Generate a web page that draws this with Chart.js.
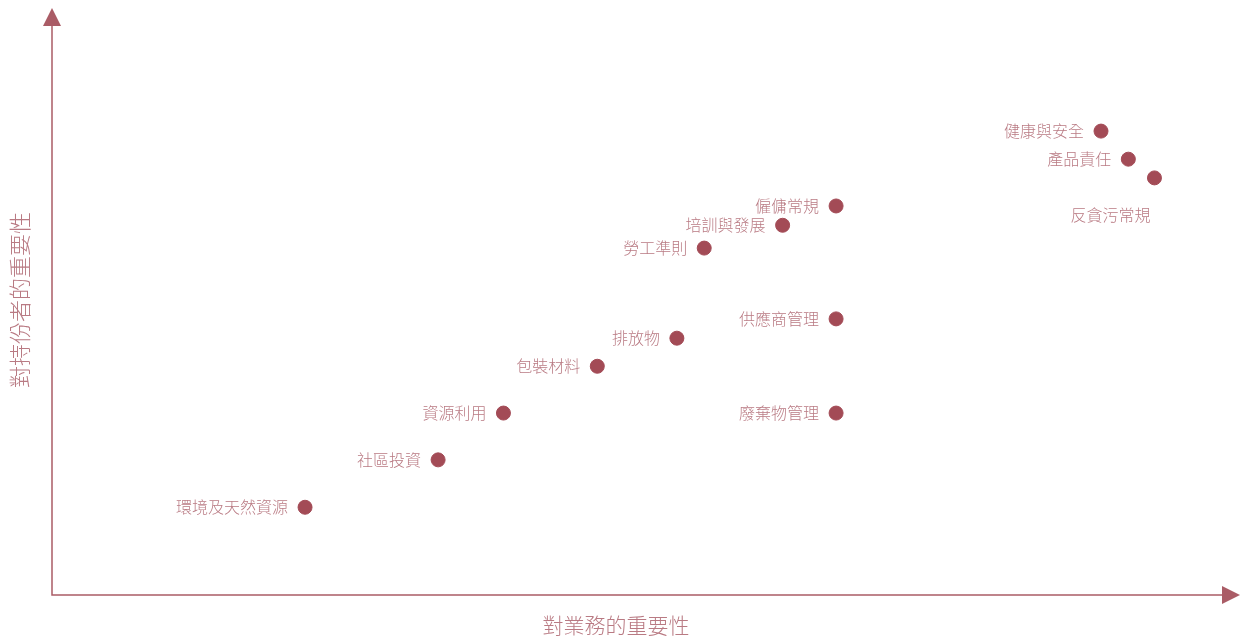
<!DOCTYPE html>
<html>
<head>
<meta charset="utf-8">
<script src="https://cdn.jsdelivr.net/npm/chart.js@4.4.0/dist/chart.umd.min.js"></script>
<style>
  html, body { margin: 0; padding: 0; background: #fff; }
  #wrap { width: 1242px; height: 639px; }
</style>
</head>
<body>
<div id="wrap"><canvas id="matrix"></canvas></div>
<script>
// Data
const topics = ["健康與安全", "產品責任", "反貪污常規", "僱傭常規", "培訓與發展", "勞工準則",
  "供應商管理", "排放物", "包裝材料", "資源利用", "廢棄物管理", "社區投資", "環境及天然資源"];
const businessImportance = [88.3, 90.6, 92.8, 66.0, 61.5, 54.9, 66.0, 52.6, 45.9, 38.0, 66.0, 32.5, 21.3];
const stakeholderImportance = [79.3, 74.5, 71.3, 66.5, 63.2, 59.3, 47.2, 43.9, 39.1, 31.1, 31.1, 23.1, 15.0];
const labelBelow = ["反貪污常規"];

const xTitle = "對業務的重要性";
const yTitle = "對持份者的重要性";

const dotColor = "#a34b56";
const axisColor = "#aa5c66";
const textColor = "#b97a83";
const font = '"Noto Sans CJK TC", "Noto Sans", sans-serif';

// axes with arrows + labels
const matrixPlugin = {
    id: "matrix",
    afterDatasetsDraw(chart) {
        const { ctx, chartArea: a } = chart;
        ctx.save();
        ctx.strokeStyle = axisColor;
        ctx.fillStyle = axisColor;
        ctx.lineWidth = 1.5;
        ctx.beginPath();
        ctx.moveTo(a.left, a.top + 12);
        ctx.lineTo(a.left, a.bottom);
        ctx.lineTo(a.right - 12, a.bottom);
        ctx.stroke();
        // arrow heads
        ctx.beginPath();
        ctx.moveTo(a.left, a.top - 2);
        ctx.lineTo(a.left - 9, a.top + 16);
        ctx.lineTo(a.left + 9, a.top + 16);
        ctx.closePath();
        ctx.fill();
        ctx.beginPath();
        ctx.moveTo(a.right, a.bottom);
        ctx.lineTo(a.right - 18, a.bottom - 9);
        ctx.lineTo(a.right - 18, a.bottom + 9);
        ctx.closePath();
        ctx.fill();

        // point labels
        ctx.fillStyle = textColor;
        ctx.font = "300 16px " + font;
        const meta = chart.getDatasetMeta(0);
        meta.data.forEach((pt, i) => {
            const name = topics[i];
            if (labelBelow.includes(name)) {
                ctx.textAlign = "center";
                ctx.textBaseline = "middle";
                ctx.fillText(name, pt.x - 44, pt.y + 37);
            } else {
                ctx.textAlign = "right";
                ctx.textBaseline = "middle";
                ctx.fillText(name, pt.x - 17, pt.y);
            }
        });

        // axis titles
        ctx.font = "300 21px " + font;
        ctx.textAlign = "center";
        ctx.textBaseline = "middle";
        ctx.fillText(xTitle, (a.left + a.right) / 2 - 30, a.bottom + 30);
        ctx.translate(a.left - 32, 300);
        ctx.rotate(-Math.PI / 2);
        ctx.font = "300 22px " + font;
        ctx.fillText(yTitle, 0, 0);
        ctx.restore();
    }
};

new Chart(document.getElementById("matrix"), {
    type: "scatter",
    data: {
        datasets: [{
            data: topics.map((t, i) => ({ x: businessImportance[i], y: stakeholderImportance[i] })),
            backgroundColor: dotColor,
            borderColor: dotColor,
            pointRadius: 7,
            pointHoverRadius: 7,
        }],
    },
    options: {
        responsive: true,
        maintainAspectRatio: false,
        animation: false,
        layout: { autoPadding: false, padding: { left: 52, right: 2, top: 10, bottom: 44 } },
        plugins: { legend: { display: false }, tooltip: { enabled: false } },
        scales: {
            x: { display: false, min: 0, max: 100 },
            y: { display: false, min: 0, max: 100 },
        },
    },
    plugins: [matrixPlugin],
});
</script>
</body>
</html>
